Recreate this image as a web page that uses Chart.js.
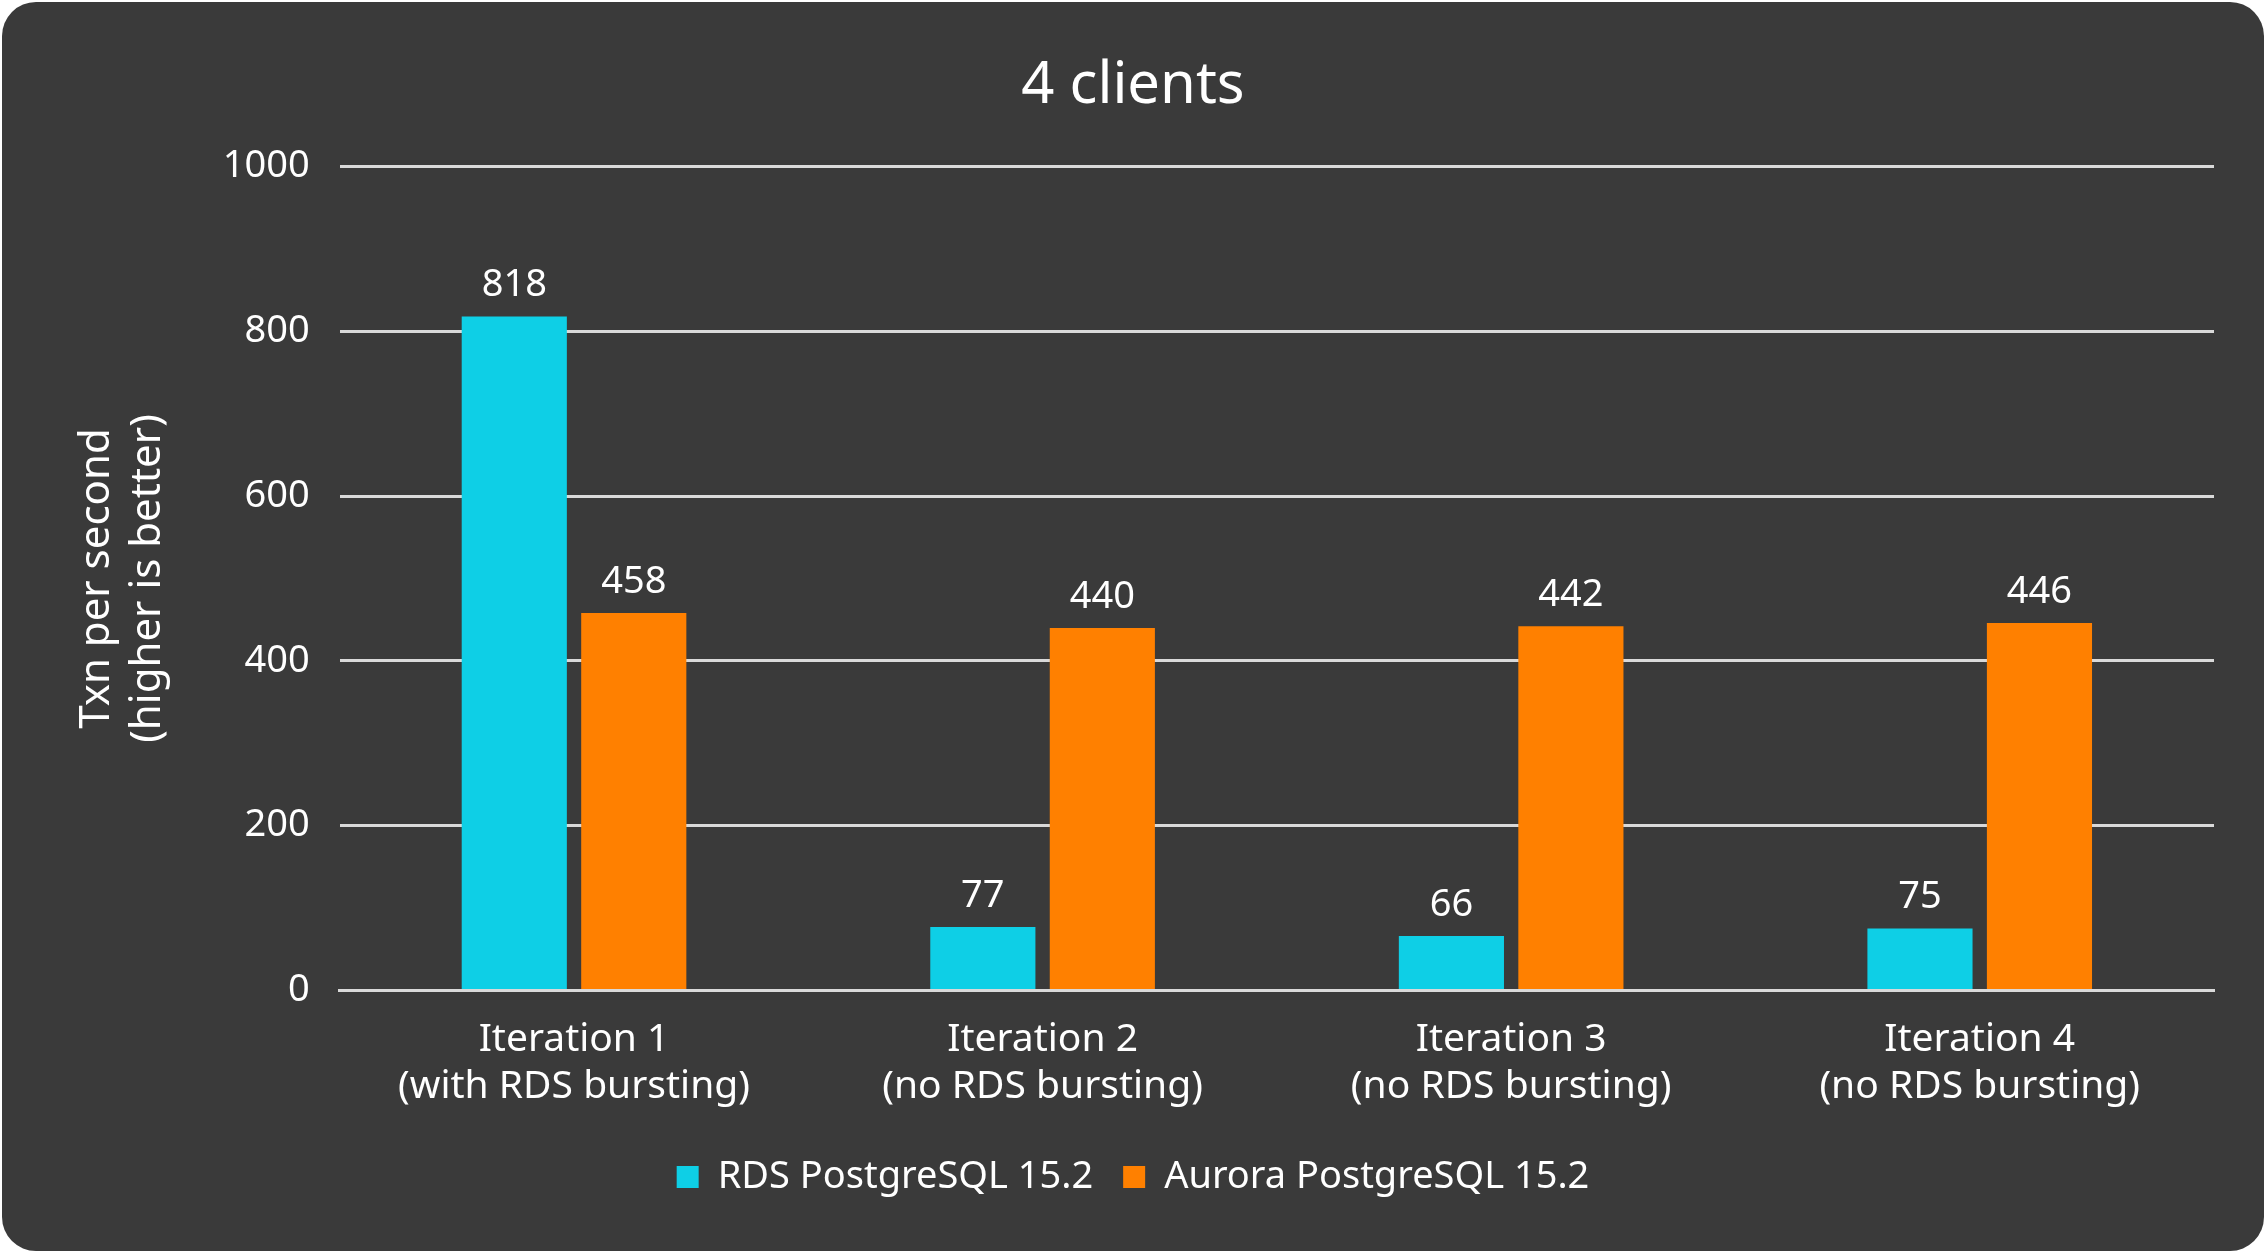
<!DOCTYPE html>
<html>
<head>
<meta charset="utf-8">
<script src="https://cdn.jsdelivr.net/npm/chart.js"></script>
<style>
  html, body { margin: 0; padding: 0; background: #ffffff; }
  #box { position: absolute; left: 2px; top: 2px; width: 2262px; height: 1249px; background: #3a3a3a; border-radius: 34px; }
  #c { position: absolute; left: 0; top: 0; }
</style>
</head>
<body>
<div id="box"><canvas id="c"></canvas></div>
<script>
// chart data
const categories = [
  ['Iteration 1', '(with RDS bursting)'],
  ['Iteration 2', '(no RDS bursting)'],
  ['Iteration 3', '(no RDS bursting)'],
  ['Iteration 4', '(no RDS bursting)']
]
const rdsValues = [818, 77, 66, 75]
const auroraValues = [458, 440, 442, 446]
const yTicks = [0, 200, 400, 600, 800, 1000]

const font = '"Noto Sans", "Open Sans", sans-serif'

// draws the value above each bar
const valueLabels = {
  id: 'valueLabels',
  afterDatasetsDraw(chart) {
    const ctx = chart.ctx
    ctx.save()
    ctx.fillStyle = '#ffffff'
    ctx.font = '38px ' + font
    ctx.textAlign = 'center'
    ctx.textBaseline = 'bottom'
    chart.data.datasets.forEach((ds, i) => {
      chart.getDatasetMeta(i).data.forEach((bar, j) => {
        ctx.fillText(ds.data[j], bar.x, bar.y - 12)
      })
    })
    ctx.restore()
  }
}

const box = document.getElementById('box')
const canvas = document.getElementById('c')
canvas.width = box.clientWidth
canvas.height = box.clientHeight

new Chart(canvas, {
  type: 'bar',
  data: {
    labels: categories,
    datasets: [
      { label: 'RDS PostgreSQL 15.2', data: rdsValues, backgroundColor: '#0ecfe6', categoryPercentage: 0.51, barPercentage: 0.88 },
      { label: 'Aurora PostgreSQL 15.2', data: auroraValues, backgroundColor: '#ff8000', categoryPercentage: 0.51, barPercentage: 0.88 }
    ]
  },
  options: {
    responsive: false,
    animation: false,
    layout: { padding: { left: 50, right: 50, top: 20, bottom: 45 } },
    plugins: {
      title: { display: true, text: '4 clients', color: '#ffffff', font: { family: font, size: 58, weight: 'normal' }, padding: { top: 30, bottom: 45 } },
      legend: {
        position: 'bottom',
        labels: { color: '#ffffff', font: { family: font, size: 38 }, boxWidth: 22, boxHeight: 22, padding: 30 }
      },
      tooltip: { enabled: false }
    },
    scales: {
      x: {
        grid: { display: false },
        border: { color: '#d9d9d9', width: 3 },
        ticks: { color: '#ffffff', font: { family: font, size: 39 }, padding: 18 }
      },
      y: {
        min: 0, max: 1000,
        afterBuildTicks: axis => { axis.ticks = yTicks.map(v => ({ value: v })) },
        grid: { color: '#d9d9d9', lineWidth: 3, drawTicks: false },
        border: { display: false },
        ticks: { color: '#ffffff', font: { family: font, size: 38 }, padding: 30, callback: v => String(v) },
        title: { display: true, text: ['Txn per second', '(higher is better)'], color: '#ffffff', font: { family: font, size: 42 }, padding: 20 }
      }
    }
  },
  plugins: [valueLabels]
})
</script>
</body>
</html>
